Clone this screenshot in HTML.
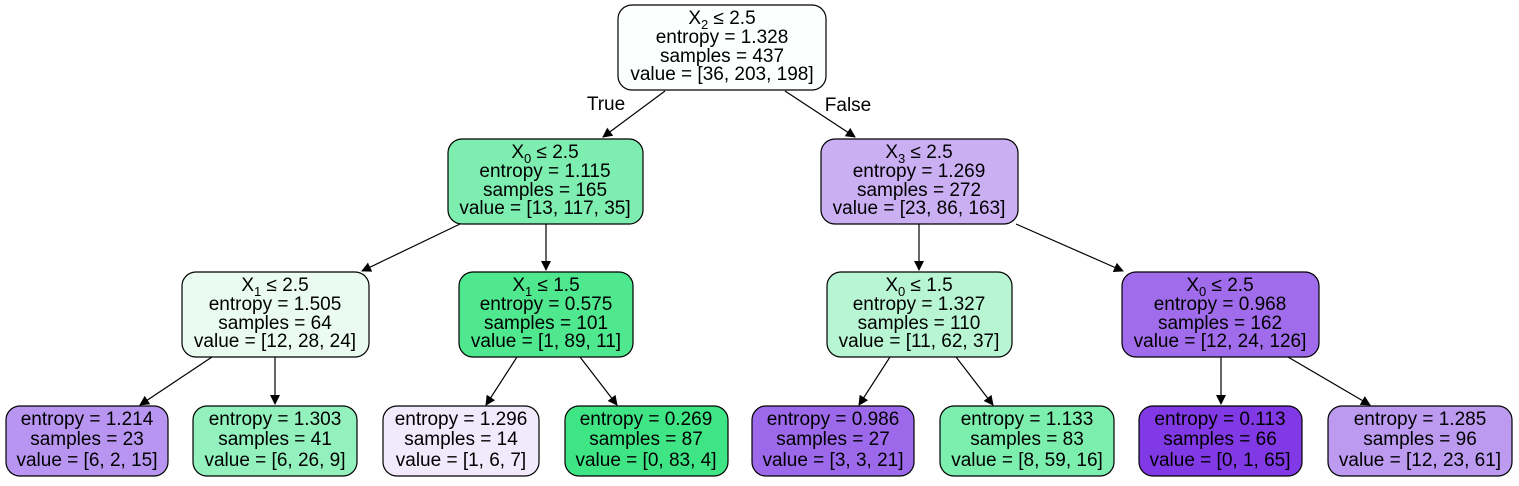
<!DOCTYPE html>
<html><head><meta charset="utf-8"><style>
html,body{margin:0;padding:0;background:#fff;}
svg text{font-family:"Liberation Sans",Helvetica,Arial,sans-serif;font-size:19px;fill:#000;}
</style></head><body>
<svg width="1519" height="481" viewBox="0 0 1519 481" xmlns="http://www.w3.org/2000/svg">
<defs><marker id="a" markerWidth="10" markerHeight="10" refX="9" refY="5" orient="auto" markerUnits="userSpaceOnUse"><path d="M0,0 L10,5 L0,10 z" fill="#000"/></marker></defs>
<g stroke="#000" stroke-width="1.2" fill="none">
<line x1="665" y1="91" x2="603" y2="137" marker-end="url(#a)"/>
<line x1="785" y1="91" x2="855" y2="137" marker-end="url(#a)"/>
<line x1="460" y1="224" x2="362" y2="271" marker-end="url(#a)"/>
<line x1="546" y1="224" x2="546" y2="270" marker-end="url(#a)"/>
<line x1="919" y1="224" x2="919" y2="270" marker-end="url(#a)"/>
<line x1="1016" y1="224" x2="1123" y2="271" marker-end="url(#a)"/>
<line x1="212" y1="357" x2="140" y2="405" marker-end="url(#a)"/>
<line x1="275" y1="357" x2="275" y2="404" marker-end="url(#a)"/>
<line x1="517" y1="357" x2="486" y2="405" marker-end="url(#a)"/>
<line x1="580" y1="357" x2="617" y2="405" marker-end="url(#a)"/>
<line x1="890" y1="357" x2="859" y2="405" marker-end="url(#a)"/>
<line x1="956" y1="357" x2="993" y2="405" marker-end="url(#a)"/>
<line x1="1221" y1="357" x2="1221" y2="404" marker-end="url(#a)"/>
<line x1="1288" y1="357" x2="1370" y2="405" marker-end="url(#a)"/>
</g>
<text x="606" y="110" text-anchor="middle">True</text>
<text x="848" y="111" text-anchor="middle">False</text>
<g stroke="#000" stroke-width="1.2">
<rect x="618" y="5" width="208" height="85" rx="14" fill="#fbfffd"/>
<rect x="448" y="139" width="195" height="85" rx="14" fill="#7eeeb0"/>
<rect x="821" y="139" width="197" height="85" rx="14" fill="#caaff3"/>
<rect x="182" y="272" width="187" height="85" rx="14" fill="#eafcf1"/>
<rect x="459" y="272" width="174" height="85" rx="14" fill="#4fe88f"/>
<rect x="827" y="272" width="185" height="85" rx="14" fill="#b8f5d3"/>
<rect x="1122" y="272" width="197" height="85" rx="14" fill="#a06cec"/>
<rect x="6" y="406" width="162" height="70" rx="14" fill="#b895f0"/>
<rect x="193" y="406" width="164" height="70" rx="14" fill="#92f1bc"/>
<rect x="383" y="406" width="156" height="70" rx="14" fill="#f1e9fc"/>
<rect x="565" y="406" width="163" height="70" rx="14" fill="#3fe585"/>
<rect x="752" y="406" width="162" height="70" rx="14" fill="#9d69eb"/>
<rect x="940" y="406" width="174" height="70" rx="14" fill="#7ceeae"/>
<rect x="1139" y="406" width="163" height="70" rx="14" fill="#8139e5"/>
<rect x="1328" y="406" width="184" height="70" rx="14" fill="#bb9af0"/>
</g>
<g text-anchor="middle">
<text x="722" y="24">X<tspan font-size="13" dy="5">2</tspan><tspan dy="-5"> ≤ 2.5</tspan></text>
<text x="722" y="43">entropy = 1.328</text><text x="722" y="62">samples = 437</text><text x="722" y="80">value = [36, 203, 198]</text>

<text x="545" y="158">X<tspan font-size="13" dy="5">0</tspan><tspan dy="-5"> ≤ 2.5</tspan></text>
<text x="545" y="177">entropy = 1.115</text><text x="545" y="196">samples = 165</text><text x="545" y="214">value = [13, 117, 35]</text>

<text x="919" y="158">X<tspan font-size="13" dy="5">3</tspan><tspan dy="-5"> ≤ 2.5</tspan></text>
<text x="919" y="177">entropy = 1.269</text><text x="919" y="196">samples = 272</text><text x="919" y="214">value = [23, 86, 163]</text>

<text x="275" y="291">X<tspan font-size="13" dy="5">1</tspan><tspan dy="-5"> ≤ 2.5</tspan></text>
<text x="275" y="310">entropy = 1.505</text><text x="275" y="329">samples = 64</text><text x="275" y="347">value = [12, 28, 24]</text>

<text x="546" y="291">X<tspan font-size="13" dy="5">1</tspan><tspan dy="-5"> ≤ 1.5</tspan></text>
<text x="546" y="310">entropy = 0.575</text><text x="546" y="329">samples = 101</text><text x="546" y="347">value = [1, 89, 11]</text>

<text x="919" y="291">X<tspan font-size="13" dy="5">0</tspan><tspan dy="-5"> ≤ 1.5</tspan></text>
<text x="919" y="310">entropy = 1.327</text><text x="919" y="329">samples = 110</text><text x="919" y="347">value = [11, 62, 37]</text>

<text x="1220" y="291">X<tspan font-size="13" dy="5">0</tspan><tspan dy="-5"> ≤ 2.5</tspan></text>
<text x="1220" y="310">entropy = 0.968</text><text x="1220" y="329">samples = 162</text><text x="1220" y="347">value = [12, 24, 126]</text>

<text x="87" y="425">entropy = 1.214</text><text x="87" y="445">samples = 23</text><text x="87" y="466">value = [6, 2, 15]</text>
<text x="275" y="425">entropy = 1.303</text><text x="275" y="445">samples = 41</text><text x="275" y="466">value = [6, 26, 9]</text>
<text x="461" y="425">entropy = 1.296</text><text x="461" y="445">samples = 14</text><text x="461" y="466">value = [1, 6, 7]</text>
<text x="646" y="425">entropy = 0.269</text><text x="646" y="445">samples = 87</text><text x="646" y="466">value = [0, 83, 4]</text>
<text x="833" y="425">entropy = 0.986</text><text x="833" y="445">samples = 27</text><text x="833" y="466">value = [3, 3, 21]</text>
<text x="1027" y="425">entropy = 1.133</text><text x="1027" y="445">samples = 83</text><text x="1027" y="466">value = [8, 59, 16]</text>
<text x="1220" y="425">entropy = 0.113</text><text x="1220" y="445">samples = 66</text><text x="1220" y="466">value = [0, 1, 65]</text>
<text x="1420" y="425">entropy = 1.285</text><text x="1420" y="445">samples = 96</text><text x="1420" y="466">value = [12, 23, 61]</text>
</g>
</svg>
</body></html>
